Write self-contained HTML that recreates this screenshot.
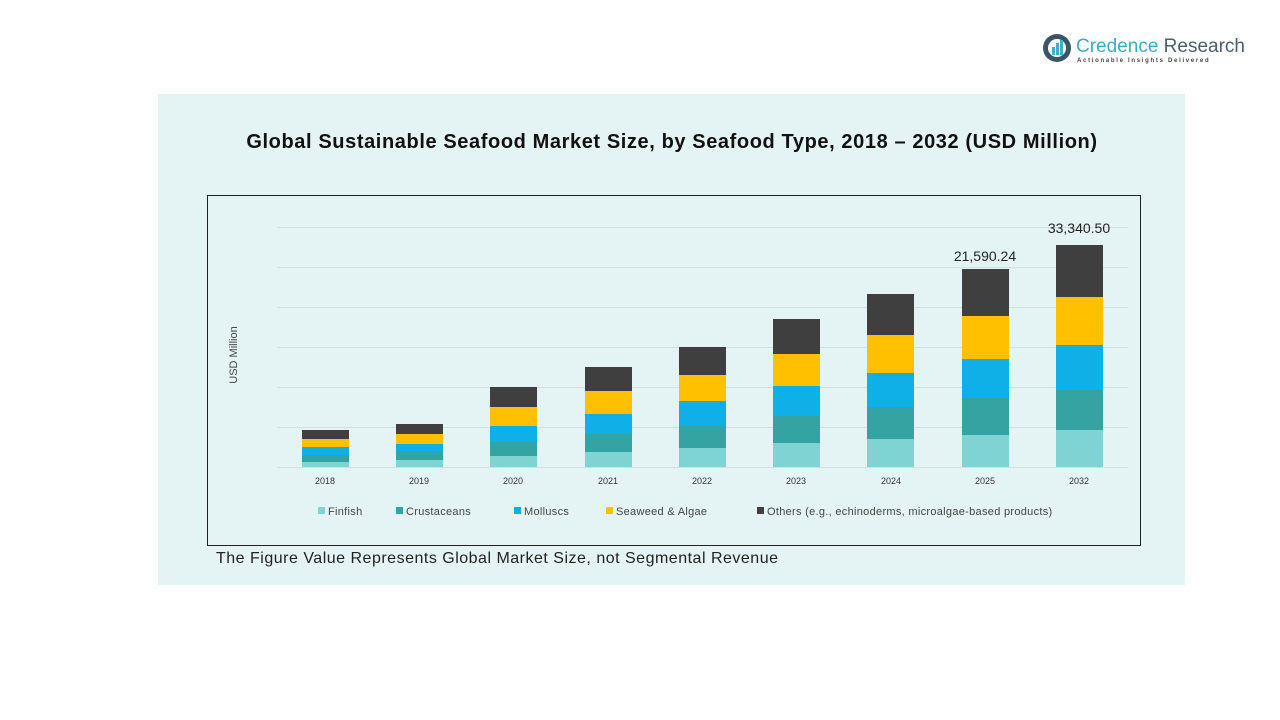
<!DOCTYPE html><html><head><meta charset="utf-8"><style>
body{margin:0;width:1280px;height:720px;background:#fff;font-family:"Liberation Sans",sans-serif;position:relative;overflow:hidden}
.a{position:absolute}
</style></head><body>
<div class="a" style="left:158px;top:94px;width:1027px;height:491px;background:#e4f4f5"></div>
<div class="a" style="left:0;width:1280px;top:131px;text-align:center;font-size:20px;letter-spacing:0.6px;font-weight:bold;color:#111;padding-left:64px;box-sizing:border-box">Global Sustainable Seafood Market Size, by Seafood Type, 2018 – 2032 (USD Million)</div>
<div class="a" style="left:207px;top:195px;width:932px;height:349px;border:1px solid #222"></div>
<svg class="a" style="left:0;top:0" width="1280" height="720">
<g stroke="#cfdfe2" stroke-width="1">
<line x1="278" x2="1128" y1="227.5" y2="227.5"/><line x1="278" x2="1128" y1="267.5" y2="267.5"/><line x1="278" x2="1128" y1="307.5" y2="307.5"/><line x1="278" x2="1128" y1="347.5" y2="347.5"/><line x1="278" x2="1128" y1="387.5" y2="387.5"/><line x1="278" x2="1128" y1="427.5" y2="427.5"/><line x1="278" x2="1128" y1="467.5" y2="467.5"/>
</g>
<g id="bars"></g>
<g font-size="9" fill="#333" text-anchor="middle">
<text x="325" y="484">2018</text><text x="419" y="484">2019</text><text x="513" y="484">2020</text><text x="608" y="484">2021</text><text x="702" y="484">2022</text><text x="796" y="484">2023</text><text x="891" y="484">2024</text><text x="985" y="484">2025</text><text x="1079" y="484">2032</text>
</g>
<text x="985" y="261" font-size="14" fill="#222" text-anchor="middle">21,590.24</text>
<text x="1079" y="233" font-size="14" fill="#222" text-anchor="middle">33,340.50</text>
<text transform="translate(237,355) rotate(-90)" font-size="11" fill="#444" text-anchor="middle">USD Million</text>
<g font-size="11" fill="#444" letter-spacing="0.3">
<rect x="318" y="507" width="7" height="7" fill="#7fd3d3"/><text x="328" y="515">Finfish</text>
<rect x="396" y="507" width="7" height="7" fill="#36a3a3"/><text x="406" y="515">Crustaceans</text>
<rect x="514" y="507" width="7" height="7" fill="#0fb0e8"/><text x="524" y="515">Molluscs</text>
<rect x="606" y="507" width="7" height="7" fill="#ffc000"/><text x="616" y="515">Seaweed &amp; Algae</text>
<rect x="757" y="507" width="7" height="7" fill="#3f3f3f"/><text x="767" y="515">Others (e.g., echinoderms, microalgae-based products)</text>
</g>
<circle cx="1057" cy="48" r="14" fill="#3c5566"/><circle cx="1057" cy="48" r="9" fill="#fff"/>
<rect x="1052" y="47" width="3" height="8" fill="#3bb3c3"/><rect x="1056" y="43" width="3" height="12" fill="#3bb3c3"/><rect x="1060" y="40" width="3" height="15" fill="#3bb3c3"/>
<text x="1076" y="52" font-size="19" fill="#3aaebf">Credence <tspan fill="#4a5e6c">Research</tspan></text>
<text x="1077" y="62" font-size="6" fill="#444" letter-spacing="1.7" font-weight="bold">Actionable Insights Delivered</text>
</svg>
<div class="a" style="left:216px;top:550px;font-size:16px;letter-spacing:0.5px;color:#222">The Figure Value Represents Global Market Size, not Segmental Revenue</div>
<script>
var d=[[302,[462,455,447,439,430]],[396,[460,451,444,434,424]],[490,[456,442,426,407,387]],[585,[452,434,414,391,367]],[679,[448,426,401,375,347]],[773,[443,416,386,354,319]],[867,[439,407,373,335,294]],[962,[435,398,359,316,269]],[1056,[430,390,345,297,245]]];
var c=["#7fd3d3","#36a3a3","#0fb0e8","#ffc000","#3f3f3f"],s="";
d.forEach(function(b){var prev=467;b[1].forEach(function(t,i){s+='<rect x="'+b[0]+'" y="'+t+'" width="47" height="'+(prev-t)+'" fill="'+c[i]+'"/>';prev=t;});});
document.getElementById("bars").innerHTML=s;
</script>
</body></html>
